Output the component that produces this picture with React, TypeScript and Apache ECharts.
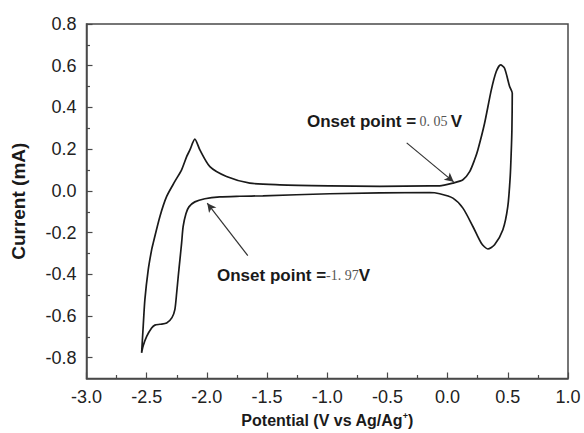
import React, { useEffect, useRef } from "react";
import * as echarts from "echarts";

const potential = [
  -2.542, -2.529, -2.515, -2.487, -2.459, -2.446, -2.39, -2.334, -2.266, -2.21,
  -2.168, -2.141, -2.1, -2.058, -1.975, -1.837, -1.643, -1.394, -0.979, -0.564,
  -0.149, -0.066, 0.044, 0.127, 0.183, 0.224, 0.251, 0.307, 0.363, 0.404,
  0.44, 0.473, 0.515, 0.537, 0.534, 0.529, 0.52, 0.5, 0.459, 0.39,
  0.334, 0.28, 0.21, 0.127, 0.044, -0.066, -0.149, -0.979, -1.535, -1.725,
  -1.892, -2.017, -2.1, -2.149, -2.174, -2.197, -2.21, -2.224, -2.238, -2.251,
  -2.266, -2.29, -2.334, -2.39, -2.432, -2.459, -2.5, -2.529, -2.542,
];
const current = [
  -0.777, -0.65, -0.522, -0.378, -0.283, -0.251, -0.123, -0.027, 0.045, 0.101,
  0.164, 0.196, 0.248, 0.196, 0.116, 0.069, 0.037, 0.029, 0.024, 0.021,
  0.024, 0.024, 0.037, 0.053, 0.092, 0.149, 0.196, 0.324, 0.484, 0.572,
  0.604, 0.588, 0.5, 0.468, 0.292, 0.196, 0.069, -0.075, -0.187, -0.259,
  -0.279, -0.251, -0.171, -0.083, -0.035, -0.014, -0.008, -0.014, -0.024, -0.026,
  -0.029, -0.038, -0.053, -0.077, -0.11, -0.171, -0.251, -0.331, -0.411, -0.49,
  -0.57, -0.608, -0.634, -0.64, -0.644, -0.658, -0.698, -0.743, -0.777,
];

const yMajorTicks = [-0.8, -0.6, -0.4, -0.2, 0.0, 0.2, 0.4, 0.6, 0.8];
const yMinorTicks = [-0.7, -0.5, -0.3, -0.1, 0.1, 0.3, 0.5, 0.7];

// arrows: [fromX, fromY, toX, toY]
const arrowOxidation = [-0.34, 0.23, 0.05, 0.043];
const arrowReduction = [-1.66, -0.311, -1.997, -0.059];

const onsetOxidation = "0. 05";
const onsetReduction = "-1. 97";

export default function App() {
  const ref = useRef<HTMLDivElement>(null);
  useEffect(() => {
    if (!ref.current) return;
    document.body.style.margin = "0";
    const chart = echarts.init(ref.current, null, { renderer: "svg" });
    const data = potential.map((x, i) => [x, current[i]]);
    const font = "Liberation Sans, Arial, sans-serif";
    const gridRect = { left: 86.5, right: 16, top: 24, bottom: 54 };
    const xCommon = { type: "value", min: -3, max: 1, interval: 0.5 };
    const yCommon = { type: "value", min: -0.9, max: 0.8, interval: 0.1 };
    const richAnn = {
      b: { fontFamily: font, fontWeight: "bold", fontSize: 17, fill: "#1a1a1a", color: "#1a1a1a" },
      s: { fontFamily: "Liberation Serif, DejaVu Serif, serif", fontSize: 14, color: "#555", fill: "#555" },
    };
    chart.setOption({
      animation: false,
      backgroundColor: "#fff",
      grid: [
        { ...gridRect, show: true, borderColor: "#4a4a4a", borderWidth: 1.5, backgroundColor: "transparent" },
        { ...gridRect },
      ],
      xAxis: [
        {
          ...xCommon,
          gridIndex: 0,
          name: "Potential (V vs Ag/Ag{sup|+})",
          nameLocation: "middle",
          nameGap: 33,
          nameTextStyle: {
            fontFamily: font,
            fontWeight: "bold",
            fontSize: 16,
            color: "#1a1a1a",
            rich: {
              sup: { fontFamily: font, fontWeight: "bold", fontSize: 9, color: "#1a1a1a", verticalAlign: "top", padding: [0, 0, 8, 0] },
            },
          },
          axisLine: { show: true, onZero: false, lineStyle: { color: "#4a4a4a", width: 1.5 } },
          axisTick: { show: true, inside: true, length: 6, lineStyle: { color: "#4a4a4a", width: 1.2 } },
          minorTick: { show: true, splitNumber: 2, length: 3.5, lineStyle: { color: "#4a4a4a", width: 1.2 } },
          axisLabel: { fontFamily: font, fontSize: 18, color: "#222", margin: 9, formatter: (v: number) => v.toFixed(1) },
          splitLine: { show: false },
        },
        { ...xCommon, gridIndex: 1, show: false },
      ],
      yAxis: [
        {
          ...yCommon,
          gridIndex: 0,
          name: "Current (mA)",
          nameLocation: "middle",
          nameGap: 59,
          nameTextStyle: { fontFamily: font, fontWeight: "bold", fontSize: 19, color: "#1a1a1a" },
          axisLine: { show: true, onZero: false, lineStyle: { color: "#4a4a4a", width: 1.5 } },
          axisTick: { show: true, inside: true, length: 6, customValues: yMajorTicks, lineStyle: { color: "#4a4a4a", width: 1.2 } },
          axisLabel: {
            fontFamily: font,
            fontSize: 18,
            color: "#222",
            margin: 10,
            customValues: yMajorTicks,
            formatter: (v: number) => v.toFixed(1),
          },
          splitLine: { show: false },
        },
        {
          ...yCommon,
          gridIndex: 1,
          axisLine: { show: false, onZero: false },
          axisLabel: { show: false },
          axisTick: { show: true, inside: true, length: 3.5, customValues: yMinorTicks, lineStyle: { color: "#4a4a4a", width: 1.2 } },
          splitLine: { show: false },
        },
      ],
      series: [
        {
          type: "line",
          xAxisIndex: 0,
          yAxisIndex: 0,
          data,
          showSymbol: false,
          smooth: 0.25,
          lineStyle: { color: "#1a1a1a", width: 1.7 },
          silent: true,
          markLine: {
            silent: true,
            symbol: ["none", "arrow"],
            symbolSize: [7, 9],
            label: { show: false },
            lineStyle: { color: "#333", width: 1.2, type: "solid" },
            data: [
              [
                { coord: [arrowOxidation[0], arrowOxidation[1]] },
                { coord: [arrowOxidation[2], arrowOxidation[3]] },
              ],
              [
                { coord: [arrowReduction[0], arrowReduction[1]] },
                { coord: [arrowReduction[2], arrowReduction[3]] },
              ],
            ],
          },
        },
      ],
      graphic: [
        {
          type: "text",
          left: 307,
          top: 113,
          style: {
            text: `{b|Onset point =} {s|${onsetOxidation}} {b|V}`,
            rich: richAnn,
          },
        },
        {
          type: "text",
          left: 217,
          top: 267,
          style: {
            text: `{b|Onset point =}{s|${onsetReduction}}{b|V}`,
            rich: richAnn,
          },
        },
      ],
    });
    return () => chart.dispose();
  }, []);
  return <div ref={ref} style={{ width: 584, height: 433 }} />;
}
